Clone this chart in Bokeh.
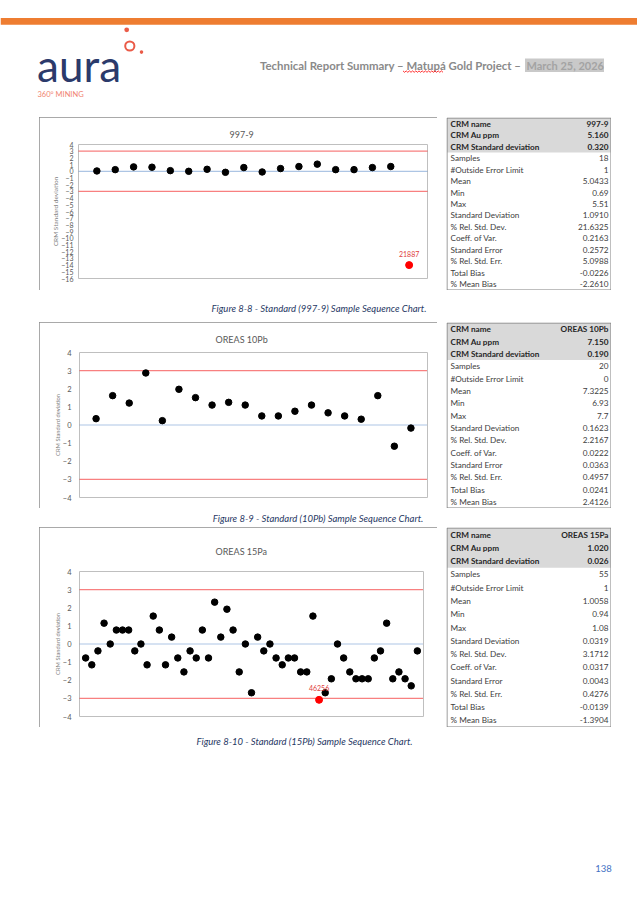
from bokeh.plotting import figure
from bokeh.layouts import column, row
from bokeh.models import Range1d, FixedTicker, Span, InlineStyleSheet
from bokeh.core.properties import value
from bokeh.embed import file_html
from bokeh.resources import INLINE

FONT = "Lato"

# ---------------- data ----------------
header_title = "Technical Report Summary \u2013 Matup\u00e1 Gold Project \u2013 "
header_date = "March 25, 2026"
logo_word = "aura"
logo_tag = "360\u00b0 MINING"
page_number = "138"

stat_labels = ["CRM name", "CRM Au ppm", "CRM Standard deviation", "Samples",
               "#Outside Error Limit", "Mean", "Min", "Max", "Standard Deviation",
               "% Rel. Std. Dev.", "Coeff. of Var.", "Standard Error",
               "% Rel. Std. Err.", "Total Bias", "% Mean Bias"]

control_limits = [3, -3]
center_line = 0
y_axis_label = "CRM Standard deviation"

c1_title = "997-9"
c1_values = [0.05, 0.25, 0.66, 0.61, 0.1, 0.0, 0.3, -0.15, 0.56, -0.1, 0.41, 0.71,
             1.07, 0.25, 0.25, 0.56, 0.71, -14.0]
c1_outlier_sample = 18
c1_outlier_label = "21887"
c1_yticks = list(range(-16, 5))
c1_stats = ["997-9", "5.160", "0.320", "18", "1", "5.0433", "0.69", "5.51", "1.0910",
            "21.6325", "0.2163", "0.2572", "5.0988", "-0.0226", "-2.2610"]
c1_caption = "Figure 8-8 - Standard (997-9) Sample Sequence Chart."

c2_title = "OREAS 10Pb"
c2_values = [0.35, 1.62, 1.21, 2.87, 0.24, 1.97, 1.51, 1.10, 1.25, 1.10, 0.50, 0.50,
             0.76, 1.10, 0.67, 0.50, 0.32, 1.62, -1.17, -0.17]
c2_outlier_sample = None
c2_outlier_label = ""
c2_yticks = list(range(-4, 5))
c2_stats = ["OREAS 10Pb", "7.150", "0.190", "20", "0", "7.3225", "6.93", "7.7", "0.1623",
            "2.2167", "0.0222", "0.0363", "0.4957", "0.0241", "2.4126"]
c2_caption = "Figure 8-9 - Standard (10Pb) Sample Sequence Chart."

c3_title = "OREAS 15Pa"
c3_values = [-0.77, -1.15, -0.38, 1.15, 0.0, 0.77, 0.77, 0.77, -0.38, 0.0,
             -1.15, 1.54, 0.77, -1.15, 0.38, -0.77, -1.54, -0.38, -0.77, 0.77,
             -0.77, 2.31, 0.38, 1.92, 0.77, -1.54, 0.0, -2.69, 0.38, -0.38,
             0.0, -0.77, -1.15, -0.77, -0.77, -1.54, -1.54, 1.54, -3.08, -2.69,
             -1.92, 0.0, -0.77, -1.54, -1.92, -1.92, -1.92, -0.77, -0.38, 1.15,
             -1.92, -1.54, -1.92, -2.31, -0.38]
c3_outlier_sample = 39
c3_outlier_label = "46256"
c3_yticks = list(range(-4, 5))
c3_stats = ["OREAS 15Pa", "1.020", "0.026", "55", "1", "1.0058", "0.94", "1.08", "0.0319",
            "3.1712", "0.0317", "0.0043", "0.4276", "-0.0139", "-1.3904"]
c3_caption = "Figure 8-10 - Standard (15Pb) Sample Sequence Chart."

# ---------------- styles ----------------
CAPTION = "#1F3864"
CORAL = "#EA5B48"
NAVY = "#2B3A6B"
BOX_CSS = InlineStyleSheet(css=":host { outline: 1px solid #8C8C8C; outline-offset: -1px; }")


def deco(w, h, margin=None):
    p = figure(width=w, height=h, x_range=Range1d(0, w), y_range=Range1d(h, 0),
               output_backend="svg", toolbar_location=None, min_border=0,
               x_axis_location=None, y_axis_location=None, outline_line_color=None,
               background_fill_color="white", border_fill_color="white")
    p.title.visible = False
    p.grid.grid_line_color = None
    if margin is not None:
        p.margin = margin
    return p


def make_chart(title, values, outlier_sample, outlier_label, yticks, h, borders,
               title_standoff, title_offset, mls, als, al_size, tick_size, outlier_dy):
    n = len(values)
    left, right, top, bottom = borders
    p = figure(width=398, height=h, x_range=Range1d(0, n + 1),
               y_range=Range1d(min(yticks), max(yticks)),
               output_backend="svg", toolbar_location=None, x_axis_location=None,
               min_border_left=left, min_border_right=right, min_border_top=top,
               min_border_bottom=bottom, outline_line_color="#BFBFBF",
               background_fill_color="white", border_fill_color="white")
    p.margin = (0, 0, 0, 39)
    p.stylesheets = [BOX_CSS]
    p.grid.grid_line_color = None
    p.title.text = title
    p.title.align = "left"
    p.title.offset = title_offset
    p.title.standoff = title_standoff
    p.title.text_font = FONT
    p.title.text_font_style = "normal"
    p.title.text_font_size = "9px"
    p.title.text_color = "#595959"
    ax = p.yaxis[0]
    ax.ticker = FixedTicker(ticks=yticks)
    ax.axis_line_color = None
    ax.major_tick_line_color = None
    ax.minor_tick_line_color = None
    ax.major_tick_out = 0
    ax.major_tick_in = 0
    ax.major_label_standoff = mls
    ax.major_label_text_font = FONT
    ax.major_label_text_font_size = tick_size
    ax.major_label_text_color = "#595959"
    ax.axis_label = y_axis_label
    ax.axis_label_standoff = als
    ax.axis_label_text_font = FONT
    ax.axis_label_text_font_style = "normal"
    ax.axis_label_text_font_size = al_size
    ax.axis_label_text_color = "#7F7F7F"
    for lim in control_limits:
        p.add_layout(Span(location=lim, dimension="width", line_color="#F00000",
                          line_dash="1 1", line_width=1.2, level="underlay"))
    p.add_layout(Span(location=center_line, dimension="width", line_color="#5B8BC9",
                      line_dash="1 1", line_width=1.2, level="underlay"))
    xs = list(range(1, n + 1))
    nx = [x for x in xs if x != outlier_sample]
    ny = [v for x, v in zip(xs, values) if x != outlier_sample]
    p.scatter(nx, ny, size=6.5, fill_color="black", line_color="black")
    if outlier_sample is not None:
        oy = values[outlier_sample - 1]
        p.scatter([outlier_sample], [oy], size=7, fill_color="#FF0000", line_color="#FF0000")
        p.text([outlier_sample], [oy], text=[outlier_label], y_offset=outlier_dy,
               text_align="center", text_baseline="middle", text_color="#E03C3C",
               text_font=value(FONT), text_font_size=value("7px"))
    return p


def make_table(h, labels, vals):
    p = deco(165, h, margin=(0, 0, 0, 9))
    n = len(labels)
    top = 0.5
    rh = (h - 1) / n
    left, right = 0.5, 164.5
    p.quad(left=[left], right=[right], top=[top], bottom=[top + 3 * rh],
           fill_color="#D9D9D9", line_color=None)
    p.quad(left=[left], right=[right], top=[top], bottom=[h - 0.5],
           fill_color=None, line_color="#7F7F7F", line_width=1)
    ys = [top + (i + 0.5) * rh for i in range(n)]
    fs = value("8.2px")
    p.text([4] * 3, ys[:3], text=labels[:3], text_align="left", text_baseline="middle",
           text_font=value(FONT), text_font_style="bold", text_font_size=fs,
           text_color="#262626")
    p.text([162] * 3, ys[:3], text=vals[:3], text_align="right", text_baseline="middle",
           text_font=value(FONT), text_font_style="bold", text_font_size=fs,
           text_color="#262626")
    p.text([4] * (n - 3), ys[3:], text=labels[3:], text_align="left", text_baseline="middle",
           text_font=value(FONT), text_font_size=fs, text_color="#404040")
    p.text([162] * (n - 3), ys[3:], text=vals[3:], text_align="right", text_baseline="middle",
           text_font=value(FONT), text_font_size=fs, text_color="#404040")
    return p


# ---------------- header ----------------
header = deco(637, 117)
header.quad(left=[0], right=[637], top=[17.5], bottom=[24.3], fill_color="#EE7D31", line_color=None)
header.text([36.6], [64], text=[logo_word], text_align="left", text_baseline="middle",
            text_font=value(FONT), text_font_size=value("44px"), text_color=NAVY)
header.circle(x=[129.3], y=[45.5], radius=4.6, fill_color=None, line_color=CORAL, line_width=2)
header.circle(x=[126.2, 141.0], y=[29.3, 51.6], radius=[2.4, 1.8], fill_color=CORAL, line_color=None)
header.text([37], [93.5], text=[logo_tag], text_align="left", text_baseline="middle",
            text_font=value(FONT), text_font_size=value("7.5px"), text_color="#F0826E")
header.quad(left=[524.5], right=[603.5], top=[58], bottom=[71.5], fill_color="#C9C9C9", line_color=None)
header.text([523.5], [64.5], text=[header_title], text_align="right", text_baseline="middle",
            text_font=value(FONT), text_font_style="bold", text_font_size=value("11.4px"),
            text_color="#8A8A8A")
header.text([526], [64.5], text=[header_date], text_align="left", text_baseline="middle",
            text_font=value(FONT), text_font_style="bold", text_font_size=value("11px"),
            text_color="#A3A3A3")
wx = [402.5 + 1.6 * i for i in range(26)]
wy = [70.4 if i % 2 == 0 else 71.8 for i in range(26)]
header.line(wx, wy, line_color="#FF0000", line_width=0.8)

# ---------------- chart rows ----------------
ch1 = make_chart(c1_title, c1_values, c1_outlier_sample, c1_outlier_label, c1_yticks, 173,
                 (39, 10, 27, 12), 14, 151, 5, -1, "6.5px", "7px", -11)
ch2 = make_chart(c2_title, c2_values, c2_outlier_sample, c2_outlier_label, c2_yticks, 186,
                 (40, 10, 30, 11), 16, 136, 8, -1, "5.8px", "7.5px", -11)
ch3 = make_chart(c3_title, c3_values, c3_outlier_sample, c3_outlier_label, c3_yticks, 200,
                 (40, 14, 44, 11), 30, 136, 8, -1, "5.8px", "7.5px", -12)

tb1 = make_table(173, stat_labels, c1_stats)
tb2 = make_table(186, stat_labels, c2_stats)
tb3 = make_table(200, stat_labels, c3_stats)

cap1 = deco(637, 32)
cap1.text([318.5], [18.3], text=[c1_caption], text_align="center", text_baseline="middle",
          text_font=value(FONT), text_font_style="italic", text_font_size=value("9.5px"),
          text_color=CAPTION)

cap2 = deco(637, 19)
cap2.text([317.5], [10.3], text=[c2_caption], text_align="center", text_baseline="middle",
          text_font=value(FONT), text_font_style="italic", text_font_size=value("9.5px"),
          text_color=CAPTION)

footer = deco(637, 173)
footer.text([304], [14], text=[c3_caption], text_align="center", text_baseline="middle",
            text_font=value(FONT), text_font_style="italic", text_font_size=value("9.5px"),
            text_color=CAPTION)
footer.text([603], [141], text=[page_number], text_align="center", text_baseline="middle",
            text_font=value(FONT), text_font_size=value("9.5px"), text_color="#4472C4")

layout = column(
    header,
    row(column(ch1), column(tb1)),
    cap1,
    row(column(ch2), column(tb2)),
    cap2,
    row(column(ch3), column(tb3)),
    footer,
)

open("out.html", "w").write(file_html(layout, INLINE))
